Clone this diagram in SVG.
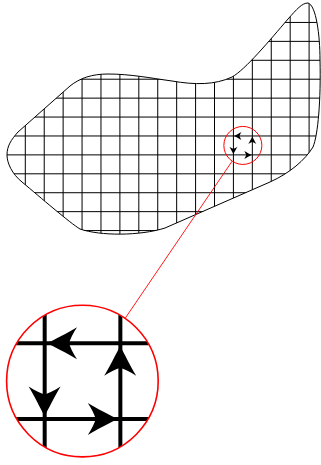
<svg xmlns="http://www.w3.org/2000/svg" xmlns:xlink="http://www.w3.org/1999/xlink" width="321" height="465" viewBox="0 0 321 465">
  <style>
    .grid { stroke: #000; stroke-width: 1; fill: none; }
    .outline { stroke: #000; stroke-width: 1; fill: none; }
    .lens { stroke: #ff0000; fill: none; }
    .ah { fill: #000; stroke: none; }
  </style>
  <defs>
    <path id="blob" d="M7,155 C7,146 11,140 18,132 L70,86 C80,78 92,74 108,74 C130,74 150,78 172,81 C195,85 215,85 232,77 C245,70 270,40 288,19 C297,9 302,3 308,3 C316,5 320,35 320,60 C321,100 318,135 313,147 C305,160 290,173 270,182 L165,228 C140,236 100,236 80,229 C70,223 40,197 22,182 C12,174 7,163 7,155 Z"/>
    <clipPath id="blobClip"><use xlink:href="#blob"/></clipPath>
    <clipPath id="lensClip"><circle cx="82.4" cy="381.1" r="75.8"/></clipPath>
    <path id="ah" d="M0,0 C-2,-1 -5,-2.5 -7.5,-4 C-6.5,-2.5 -5.8,-1 -5.5,0 C-5.8,1 -6.5,2.5 -7.5,4 C-5,2.5 -2,1 0,0 Z"/>
    <g id="loop" class="ah">
      <use xlink:href="#ah" transform="translate(234,135.97) rotate(180)"/>
      <use xlink:href="#ah" transform="translate(233.4,154.3) rotate(90)"/>
      <use xlink:href="#ah" transform="translate(251.7,154.9)"/>
      <use xlink:href="#ah" transform="translate(252.3,136.6) rotate(-90)"/>
    </g>
  </defs>

  <g id="region">
    <g class="grid" clip-path="url(#blobClip)">
      <path d="M25.3,0V240M44.22,0V240M63.14,0V240M82.06,0V240M100.98,0V240M119.9,0V240M138.82,0V240M157.74,0V240M176.66,0V240M195.58,0V240M214.5,0V240M233.42,0V240M252.34,0V240M271.26,0V240M290.18,0V240M309.1,0V240"/>
      <path d="M0,22.45H321M0,41.37H321M0,60.29H321M0,79.21H321M0,98.13H321M0,117.05H321M0,135.97H321M0,154.89H321M0,173.81H321M0,192.73H321M0,211.65H321M0,230.57H321"/>
    </g>
    <use xlink:href="#blob" class="outline"/>
  </g>

  <g id="small-loop">
    <use xlink:href="#loop"/>
    <circle class="lens" cx="242.85" cy="145.43" r="19" stroke-width="1"/>
  </g>

  <g id="connectors">
    <line x1="232.16" y1="161.14" x2="125.17" y2="318.28" stroke="#ff0000" stroke-width="0.9"/>
  </g>

  <g id="magnified">
    <g clip-path="url(#lensClip)">
      <g transform="translate(82.4,381.1) scale(4) translate(-242.85,-145.43)">
        <path class="grid" d="M233.42,120V170M252.34,120V170M215,135.97H270M215,154.89H270"/>
        <use xlink:href="#loop"/>
      </g>
    </g>
    <circle class="lens" cx="82.4" cy="381.1" r="75.8" stroke-width="1.6"/>
  </g>
</svg>
